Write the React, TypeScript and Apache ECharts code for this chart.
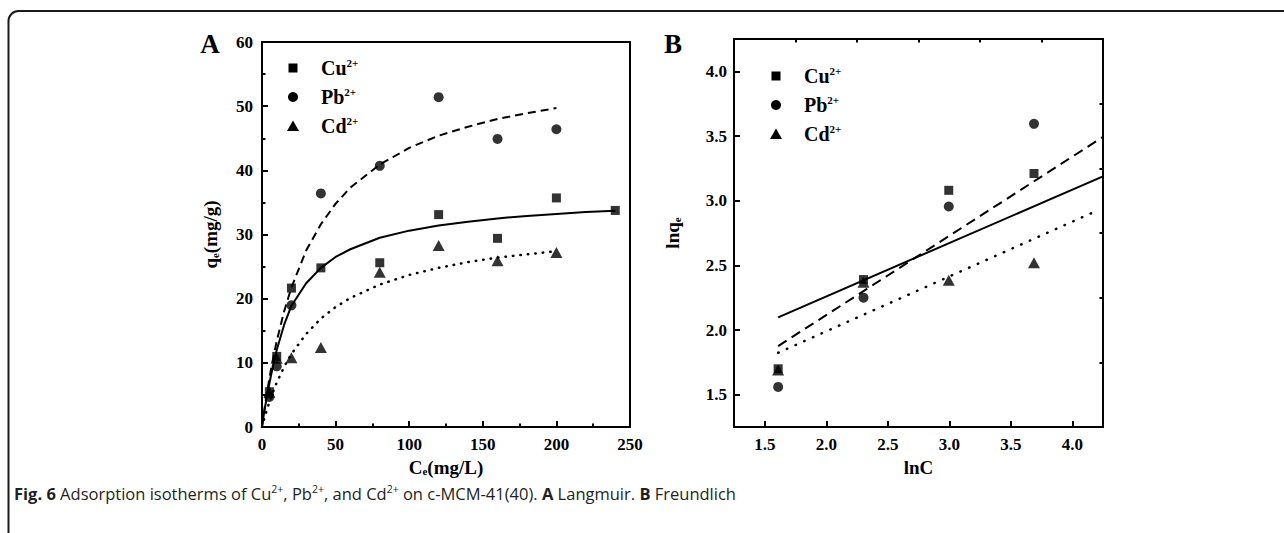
import React, { useEffect, useRef } from "react";
import * as echarts from "echarts";

// ---------- Panel A: Langmuir ----------
const concA = [5, 10, 20, 40, 80, 120, 160, 200, 240];
const cuQe = [5.5, 11.0, 21.65, 24.8, 25.6, 33.1, 29.4, 35.7, 33.75];
const pbConc = [5, 10, 20, 40, 80, 120, 160, 200];
const pbQe = [4.67, 9.45, 18.96, 36.4, 40.7, 51.4, 44.9, 46.4];
const cdConc = [5, 10, 20, 40, 80, 120, 160, 200];
const cdQe = [5.4, 10.7, 10.8, 12.4, 24.1, 28.3, 25.9, 27.2];

const fitCCu = [0, 1, 2, 4, 6, 8, 10, 15, 20, 30, 40, 50, 60, 80, 100, 120, 140, 160, 180, 200, 220, 240];
const fitQCu = [0, 1.6, 3.0, 5.6, 7.9, 10.0, 12.0, 15.9, 18.9, 22.4, 24.8, 26.5, 27.7, 29.5, 30.6, 31.4, 32.0, 32.5, 32.9, 33.2, 33.5, 33.7];
const fitC = [0, 1, 2, 4, 6, 8, 10, 15, 20, 30, 40, 50, 60, 80, 100, 120, 140, 160, 180, 200];
const fitQPb = [0, 1.69, 3.28, 6.21, 8.85, 11.2, 13.4, 18.0, 21.75, 27.5, 31.6, 34.8, 37.3, 40.9, 43.5, 45.4, 46.8, 48.0, 48.9, 49.7];
const fitQCd = [0, 0.85, 1.66, 3.17, 4.53, 5.77, 6.91, 9.37, 11.4, 14.5, 16.9, 18.7, 20.1, 22.2, 23.7, 24.8, 25.7, 26.4, 26.9, 27.4];

// ---------- Panel B: Freundlich ----------
const lnC = [1.609, 2.303, 2.996, 3.689];
const lnQCu = [1.70, 2.39, 3.08, 3.21];
const lnQPb = [1.56, 2.25, 2.955, 3.594];
const lnQCd = [1.69, 2.37, 2.385, 2.52];
const lineCuX = [1.609, 4.25];
const lineCuY = [2.098, 3.188];
const linePbX = [1.609, 4.25];
const linePbY = [1.876, 3.493];
const lineCdX = [1.609, 4.2];
const lineCdY = [1.824, 2.922];

const ticksAY = [0, 10, 20, 30, 40, 50, 60];
const ticksAX = [0, 50, 100, 150, 200, 250];
const ticksB = [1.5, 2.0, 2.5, 3.0, 3.5, 4.0];
const minorB = [1.75, 2.25, 2.75, 3.25, 3.75];

const ions = ["Cu", "Pb", "Cd"];

const SERIF = "Liberation Serif";
const BLACK = "#000";

const zip = (xs: number[], ys: number[]) => xs.map((x, i) => [x, ys[i]]);

export default function App() {
  const ref = useRef<HTMLDivElement>(null);
  useEffect(() => {
    if (!ref.current) return;
    const chart = echarts.init(ref.current, null, { renderer: "svg" });

    const tickLabel = {
      fontFamily: SERIF,
      fontWeight: "bold" as const,
      fontSize: 17,
      color: BLACK,
    };
    const nameRich = {
      t: { fontFamily: SERIF, fontWeight: "bold" as const, fontSize: 19, color: BLACK },
      s: { fontFamily: SERIF, fontWeight: "bold" as const, fontSize: 11, color: BLACK, verticalAlign: "bottom" as const },
    };
    const axisLine = { show: true, lineStyle: { color: BLACK, width: 2 } };

    const legendItems = (x: number, tx: number, ys: number[]) => {
      const els: any[] = [];
      els.push({ type: "rect", shape: { x: x - 4.5, y: ys[0] - 4.5, width: 9, height: 9 }, style: { fill: BLACK } });
      els.push({ type: "circle", shape: { cx: x, cy: ys[1], r: 5 }, style: { fill: BLACK } });
      els.push({
        type: "polygon",
        shape: { points: [[x, ys[2] - 5.5], [x + 6, ys[2] + 5], [x - 6, ys[2] + 5]] },
        style: { fill: BLACK },
      });
      ions.forEach((ion, i) => {
        els.push({
          type: "text",
          x: tx,
          y: ys[i],
          style: {
            text: `{t|${ion}}{s|2+}`,
            verticalAlign: "middle",
            align: "left",
            rich: {
              t: { fontFamily: SERIF, fontWeight: "bold", fontSize: 20, fill: BLACK, lineHeight: 22 },
              s: { fontFamily: SERIF, fontWeight: "bold", fontSize: 11, fill: BLACK, verticalAlign: "top" },
            },
          },
        });
      });
      return els;
    };

    const option: any = {
      animation: false,
      backgroundColor: "#fff",
      grid: [
        { left: 262, top: 42, width: 368, height: 385, show: true, borderColor: BLACK, borderWidth: 2, backgroundColor: "transparent" },
        { left: 734, top: 39, width: 369, height: 388, show: true, borderColor: BLACK, borderWidth: 2, backgroundColor: "transparent" },
      ],
      xAxis: [
        {
          gridIndex: 0,
          type: "value",
          min: ticksAX[0],
          max: ticksAX[ticksAX.length - 1],
          interval: 50,
          axisLine,
          axisTick: { inside: true, length: 6, lineStyle: { color: BLACK, width: 2 } },
          minorTick: { show: true, splitNumber: 2, length: 3.5, lineStyle: { color: BLACK, width: 2 } },
          splitLine: { show: false },
          axisLabel: { ...tickLabel, margin: 9 },
          name: "{t|C}{s|e}{t|(mg/L)}",
          nameLocation: "middle",
          nameGap: 29,
          nameTextStyle: { rich: nameRich },
        },
        {
          gridIndex: 1,
          type: "value",
          min: 1.25,
          max: 4.25,
          axisLine,
          axisTick: { inside: true, length: 6, customValues: ticksB, lineStyle: { color: BLACK, width: 2 } },
          splitLine: { show: false },
          axisLabel: { ...tickLabel, margin: 9, customValues: ticksB, formatter: (v: number) => v.toFixed(1) },
          name: "{t|lnC}",
          nameLocation: "middle",
          nameGap: 29,
          nameTextStyle: { rich: nameRich },
        },
        {
          gridIndex: 1,
          type: "value",
          min: 1.25,
          max: 4.25,
          axisLine: { show: false },
          axisTick: { inside: true, length: 3.5, customValues: minorB, lineStyle: { color: BLACK, width: 2 } },
          splitLine: { show: false },
          axisLabel: { show: false },
        },
      ],
      yAxis: [
        {
          gridIndex: 0,
          type: "value",
          min: ticksAY[0],
          max: ticksAY[ticksAY.length - 1],
          interval: 10,
          axisLine,
          axisTick: { inside: true, length: 6, lineStyle: { color: BLACK, width: 2 } },
          minorTick: { show: true, splitNumber: 2, length: 3.5, lineStyle: { color: BLACK, width: 2 } },
          splitLine: { show: false },
          axisLabel: { ...tickLabel, margin: 9 },
          name: "{t|q}{s|e}{t|(mg/g)}",
          nameLocation: "middle",
          nameRotate: 90,
          nameGap: 42,
          nameTextStyle: { rich: nameRich },
        },
        {
          gridIndex: 1,
          type: "value",
          min: 1.25,
          max: 4.25,
          axisLine,
          axisTick: { inside: true, length: 6, customValues: ticksB, lineStyle: { color: BLACK, width: 2 } },
          splitLine: { show: false },
          axisLabel: { ...tickLabel, margin: 7, customValues: ticksB, formatter: (v: number) => v.toFixed(1) },
          name: "{t|lnq}{s|e}",
          nameLocation: "middle",
          nameRotate: 90,
          nameGap: 52,
          nameTextStyle: { rich: nameRich },
        },
        {
          gridIndex: 1,
          type: "value",
          min: 1.25,
          max: 4.25,
          axisLine: { show: false },
          axisTick: { inside: true, length: 3.5, customValues: minorB, lineStyle: { color: BLACK, width: 2 } },
          splitLine: { show: false },
          axisLabel: { show: false },
        },
      ],
      series: [
        // Panel A fits
        { type: "line", xAxisIndex: 0, yAxisIndex: 0, data: zip(fitCCu, fitQCu), smooth: false, symbol: "none", lineStyle: { color: BLACK, width: 2 } },
        { type: "line", xAxisIndex: 0, yAxisIndex: 0, data: zip(fitC, fitQPb), smooth: false, symbol: "none", lineStyle: { color: BLACK, width: 2, type: [8, 5] } },
        { type: "line", xAxisIndex: 0, yAxisIndex: 0, data: zip(fitC, fitQCd), smooth: false, symbol: "none", lineStyle: { color: BLACK, width: 2.5, type: [0.5, 7], cap: "round" } },
        // Panel A points
        { type: "scatter", name: "Cd", xAxisIndex: 0, yAxisIndex: 0, data: zip(cdConc, cdQe), symbol: "triangle", symbolSize: [12, 11], itemStyle: { color: BLACK } },
        { type: "scatter", name: "Pb", xAxisIndex: 0, yAxisIndex: 0, data: zip(pbConc, pbQe), symbol: "circle", symbolSize: 10, itemStyle: { color: BLACK } },
        { type: "scatter", name: "Cu", xAxisIndex: 0, yAxisIndex: 0, data: zip(concA, cuQe), symbol: "rect", symbolSize: 9, itemStyle: { color: BLACK } },
        // Panel B fits
        { type: "line", xAxisIndex: 1, yAxisIndex: 1, data: zip(lineCuX, lineCuY), symbol: "none", lineStyle: { color: BLACK, width: 2 } },
        { type: "line", xAxisIndex: 1, yAxisIndex: 1, data: zip(linePbX, linePbY), symbol: "none", lineStyle: { color: BLACK, width: 2, type: [10, 6] } },
        { type: "line", xAxisIndex: 1, yAxisIndex: 1, data: zip(lineCdX, lineCdY), symbol: "none", lineStyle: { color: BLACK, width: 2.5, type: [0.5, 9], cap: "round" } },
        // Panel B points
        { type: "scatter", name: "Cd B", xAxisIndex: 1, yAxisIndex: 1, data: zip(lnC, lnQCd), symbol: "triangle", symbolSize: [12, 11], itemStyle: { color: BLACK } },
        { type: "scatter", name: "Pb B", xAxisIndex: 1, yAxisIndex: 1, data: zip(lnC, lnQPb), symbol: "circle", symbolSize: 10, itemStyle: { color: BLACK } },
        { type: "scatter", name: "Cu B", xAxisIndex: 1, yAxisIndex: 1, data: zip(lnC, lnQCu), symbol: "rect", symbolSize: 9, itemStyle: { color: BLACK } },
      ],
      graphic: [
        {
          type: "rect",
          shape: { x: 8.5, y: 11, width: 1400, height: 700, r: 10 },
          style: { fill: "none", stroke: "#1a1a1a", lineWidth: 2 },
          silent: true,
        },
        { type: "text", x: 210, y: 44, style: { text: "A", font: `bold 27px "${SERIF}"`, fill: BLACK, align: "center", verticalAlign: "middle" } },
        { type: "text", x: 673, y: 44, style: { text: "B", font: `bold 27px "${SERIF}"`, fill: BLACK, align: "center", verticalAlign: "middle" } },
        ...legendItems(293, 321, [68, 97, 126]),
        ...legendItems(776, 804, [76, 105, 134]),
        {
          type: "text",
          x: 14,
          y: 493,
          style: {
            text: "{b|Fig. 6} Adsorption isotherms of Cu{s|2+}, Pb{s|2+}, and Cd{s|2+} on c-MCM-41(40). {b|A} Langmuir. {b|B} Freundlich",
            fontFamily: "Open Sans",
            fontSize: 16.5,
            fill: "#231f20",
            verticalAlign: "middle",
            align: "left",
            rich: {
              b: { fontFamily: "Open Sans", fontWeight: "bold", fontSize: 16.5, fill: "#231f20", lineHeight: 20 },
              s: { fontFamily: "Open Sans", fontSize: 10.5, fill: "#231f20", verticalAlign: "top" },
            },
          },
        },
      ],
    };
    chart.setOption(option);
    return () => chart.dispose();
  }, []);
  return (
    <div
      ref={ref}
      style={{ position: "fixed", left: 0, top: 0, width: 1284, height: 533, background: "#fff" }}
    />
  );
}
